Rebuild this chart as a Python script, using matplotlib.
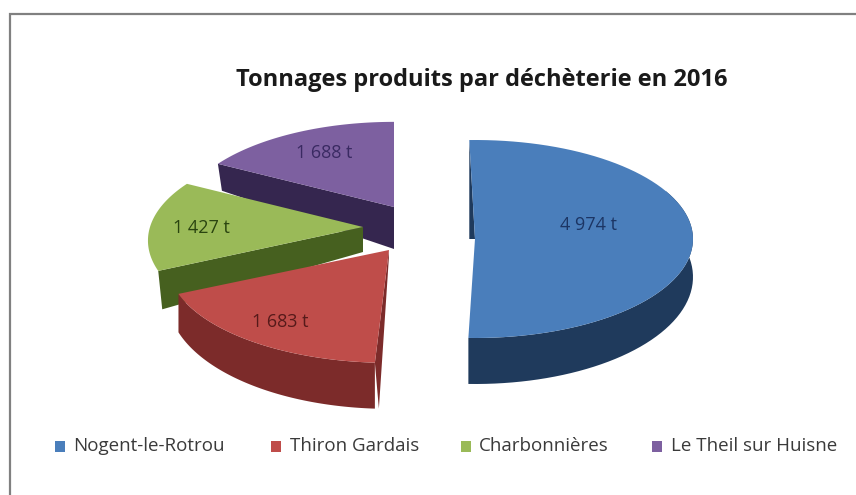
import numpy as np
import matplotlib
matplotlib.use("Agg")
import matplotlib.pyplot as plt
from matplotlib.patches import Polygon, Rectangle

# data
sites = ["Nogent-le-Rotrou", "Thiron Gardais", "Charbonnières", "Le Theil sur Huisne"]
tonnages = [4974, 1683, 1427, 1688]
value_labels = ["4 974 t", "1 683 t", "1 427 t", "1 688 t"]
top_colors = ["#4a7ebb", "#bf4d4a", "#9aba58", "#7d60a0"]
side_colors = ["#1f3a5c", "#7c2b2a", "#46601f", "#35264f"]
label_colors = ["#1c3564", "#561a1a", "#2a4410", "#3a2a62"]

# exploded position of every slice in the picture (pixels)
apex = [(475, 239), (389, 250), (363, 227), (394, 207)]
radius_x = [218, 219, 213, 213]
radius_y = [99, 99, 99, 99]
tilt = [0.0, 0.14, 0.14, 0.14]
turn = [-1.5, 0, 0, 0]
wall_base = [38, 33, 33, 33]
wall_slope = [8, 13, 13, 13]
apex_wall = [0, 6, 25, 42]
rim_wall = [True, True, False, False]
label_pos = [(589, 225), (280, 322), (201, 228), (324, 153)]
legend_x = [55, 271, 461, 652]
legend_text_x = [73, 290, 479, 671]


def rim(theta, i):
    """Offset of the pie rim at an angle, clockwise from the top."""
    k = 1 - tilt[i] * np.cos(theta)
    return radius_x[i] * k * np.sin(theta), -radius_y[i] * k * np.cos(theta)


fig = plt.figure(figsize=(8.56, 4.95), dpi=100)
ax = fig.add_axes([0, 0, 1, 1])
ax.set_xlim(0, 856)
ax.set_ylim(495, 0)
ax.axis("off")

# chart frame, only left and top are inside the picture
ax.add_patch(Rectangle((10, 14), 860, 600, fc="white", ec="#808080", lw=1.6))

ax.text(482, 80, "Tonnages produits par déchèterie en 2016", ha="center", va="center",
        fontsize=17, fontweight="bold", family="Open Sans", color="#1a1a1a")

# slices run clockwise from the top of the pie
edges = np.radians(np.concatenate([[0], np.cumsum(tonnages)]) / sum(tonnages) * 360)

# far slices first, so the near ones cover them
for i in [3, 2, 0, 1]:
    th = np.linspace(edges[i], edges[i + 1], 80) + np.radians(turn[i])
    dx, dy = rim(th, i)
    px = apex[i][0] + dx
    py = apex[i][1] + dy
    d = wall_base[i] - wall_slope[i] * np.cos(th)
    if rim_wall[i]:
        # the back of the rim is hidden, keep only the part facing the viewer
        near = th > np.radians(60)
        wall = np.r_[np.c_[px[near], py[near]], np.c_[px[near], (py + d)[near]][::-1]]
        ax.add_patch(Polygon(wall, fc=side_colors[i], ec="none"))
    if apex_wall[i] > 0:
        cut = [apex[i], (px[0], py[0]), (px[0] + 4, py[0] + d[0]),
               (apex[i][0], apex[i][1] + apex_wall[i])]
        ax.add_patch(Polygon(cut, fc=side_colors[i], ec="none"))
    else:
        # thin dark edge seen behind the flat side of the big slice
        ax.add_patch(Polygon([(px[0], py[0]), apex[i], (px[0], apex[i][1])],
                             fc=side_colors[i], ec="none"))
    top = np.r_[[apex[i]], np.c_[px, py]]
    ax.add_patch(Polygon(top, fc=top_colors[i], ec="none"))
    ax.text(label_pos[i][0], label_pos[i][1], value_labels[i], ha="center", va="center",
            fontsize=13, family="Open Sans", color=label_colors[i], zorder=5)

# legend
for x, tx, name, c in zip(legend_x, legend_text_x, sites, top_colors):
    ax.add_patch(Rectangle((x, 441), 10, 11, fc=c, ec="none"))
    ax.text(tx, 446, name, ha="left", va="center", fontsize=13.5,
            family="Open Sans", color="#3a3a3a")

fig.savefig("out.png", dpi=100)
